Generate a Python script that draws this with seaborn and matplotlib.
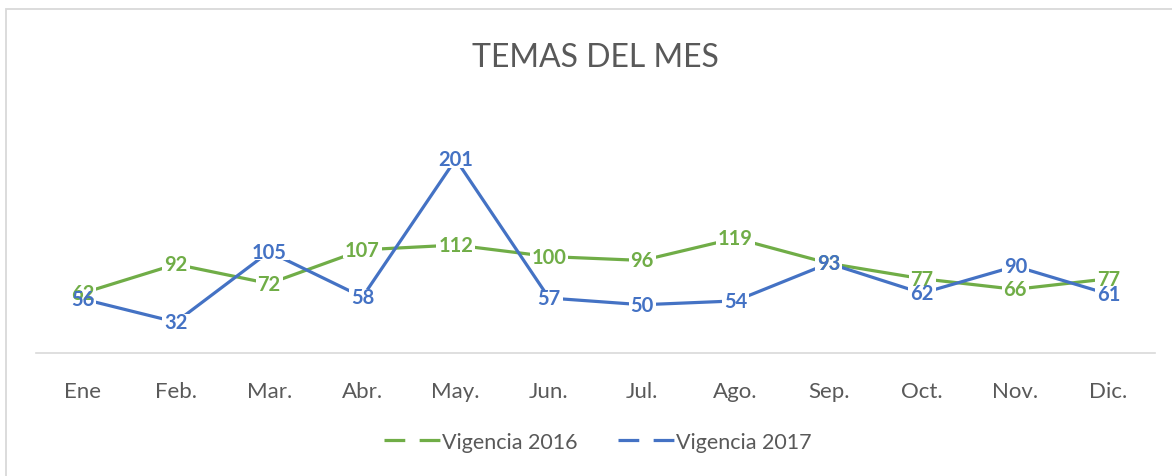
import pandas as pd
import matplotlib.pyplot as plt
import seaborn as sns
from matplotlib.lines import Line2D
from matplotlib.patches import Rectangle

# data
meses = ["Ene", "Feb.", "Mar.", "Abr.", "May.", "Jun.", "Jul.", "Ago.", "Sep.", "Oct.", "Nov.", "Dic."]
vigencia_2016 = [62, 92, 72, 107, 112, 100, 96, 119, 93, 77, 66, 77]
vigencia_2017 = [56, 32, 105, 58, 201, 57, 50, 54, 93, 62, 90, 61]
series = ["Vigencia 2016", "Vigencia 2017"]
colores = ["#70AD47", "#4472C4"]

df = pd.DataFrame({
    "mes": meses * 2,
    "x": list(range(len(meses))) * 2,
    "valor": vigencia_2016 + vigencia_2017,
    "serie": [series[0]] * len(meses) + [series[1]] * len(meses),
})

sns.set_theme(style="white")
plt.rcParams['font.family'] = ['Lato', 'DejaVu Sans']

fig = plt.figure(figsize=(11.72, 4.77), dpi=100)
ax = fig.add_axes([0.0307, 0.258, 0.955, 0.505])

sns.lineplot(data=df, x="x", y="valor", hue="serie", palette=colores,
             linewidth=2.3, ax=ax, legend=False, sort=False)

ax.set_xlim(-0.5, len(meses) - 0.5)
ax.set_ylim(0, 250)

# data labels centred on the points
etiquetas = []
for serie, color in zip(series, colores):
    sub = df[df["serie"] == serie]
    for xi, v in zip(sub["x"], sub["valor"]):
        t = ax.text(xi, v, str(v), ha="center", va="center", color=color,
                    fontsize=14.5, fontweight="bold", zorder=4)
        etiquetas.append(t)

# white boxes under all labels so they cut the lines (like Excel)
fig.canvas.draw()
renderer = fig.canvas.get_renderer()
inv = ax.transData.inverted()
for t in etiquetas:
    bb = t.get_window_extent(renderer).expanded(1.0, 0.85)
    (x0, y0), (x1, y1) = inv.transform([(bb.x0 - 2, bb.y0), (bb.x1 + 2, bb.y1)])
    ax.add_patch(Rectangle((x0, y0), x1 - x0, y1 - y0, fc="white", ec="none", zorder=3))

ax.set_xticks(range(len(meses)))
ax.set_xticklabels(meses, fontsize=16, color="#595959")
ax.set_yticks([])
ax.set_xlabel("")
ax.set_ylabel("")
ax.tick_params(axis="x", length=0, pad=20)
for s in ["top", "left", "right"]:
    ax.spines[s].set_visible(False)
ax.spines["bottom"].set_color("#D9D9D9")
ax.spines["bottom"].set_linewidth(1.2)

fig.suptitle("TEMAS DEL MES", x=0.508, y=0.879, va="center",
             fontsize=23, color="#595959", fontweight="normal")

handles = [Line2D([0], [0], color=c, lw=2.3, linestyle=(0, (6.5, 4.5))) for c in colores]
fig.legend(handles, series, loc="center", bbox_to_anchor=(0.51, 0.072), ncol=2,
           frameon=False, fontsize=15.5, labelcolor="#595959",
           handlelength=2.6, handletextpad=0.1, columnspacing=1.9)

# outer chart border
fig.patches.append(Rectangle((6 / 1172, -0.05), 1.2, 1 - 10 / 477 + 0.05,
                             transform=fig.transFigure, fill=False,
                             ec="#D9D9D9", lw=1.3, zorder=0))

plt.savefig("out.png", dpi=100)
plt.close()
